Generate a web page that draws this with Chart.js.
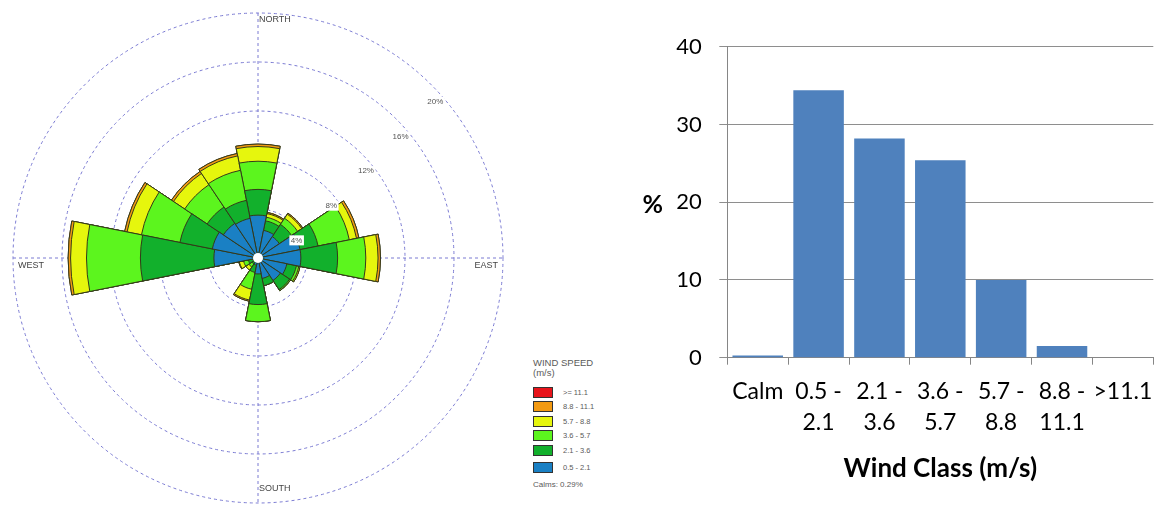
<!DOCTYPE html>
<html>
<head>
<meta charset="utf-8">
<title>Wind rose and wind class distribution</title>
<script src="https://cdn.jsdelivr.net/npm/chart.js@4.4.0/dist/chart.umd.min.js"></script>
<style>
  html, body { margin: 0; padding: 0; background: #fff; }
  body { width: 1172px; height: 506px; position: relative; overflow: hidden; }
  #rose-wrap { position: absolute; left: 0; top: 0; width: 520px; height: 506px; }
  #bar-wrap { position: absolute; left: 600px; top: 0; width: 572px; height: 506px; }
  #rose-legend {
    position: absolute; left: 533px; top: 358px;
    font-family: "Liberation Sans", Arial, sans-serif; color: #5a5a5a;
  }
  #rose-legend .lg-title { font-size: 9.5px; line-height: 10px; }
  #rose-legend .lg-row { display: flex; align-items: center; height: 14.5px; font-size: 7.5px; }
  #rose-legend .lg-row:last-child { margin-top: 3px; }
  #rose-legend .lg-box { width: 18px; height: 9px; border: 1px solid #333; margin-right: 10px; }
  #rose-legend .lg-calm { font-size: 8px; margin-top: 5px; }
  #lg-rows { margin-top: 7px; }
</style>
</head>
<body>
<div id="rose-wrap"><canvas id="rose"></canvas></div>
<div id="rose-legend">
  <div class="lg-title">WIND SPEED<br>(m/s)</div>
  <div id="lg-rows"></div>
  <div class="lg-calm" id="lg-calm"></div>
</div>
<div id="bar-wrap"><canvas id="bar"></canvas></div>

<script>
// ---- wind rose data (% of time, per direction, per speed class) ----
const directions = ["N", "NNE", "NE", "ENE", "E", "ESE", "SE", "SSE",
                    "S", "SSW", "SW", "WSW", "W", "WNW", "NW", "NNW"];
const speedClasses = ["0.5 - 2.1", "2.1 - 3.6", "3.6 - 5.7", "5.7 - 8.8", "8.8 - 11.1", ">= 11.1"];
const speed05to21 = [3.5, 2.3, 2.1, 3.5, 3.5, 2.4, 2.2, 1.7, 1.3, 0.6, 0.3, 0.4, 3.6, 3.8, 3.4, 3.3];
const speed21to36 = [2.1, 0.8, 1.2, 1.5, 3.0, 0.8, 0.9, 0.6, 2.5, 0.6, 0.3, 0.4, 6.0, 2.7, 1.6, 1.5];
const speed36to57 = [2.3, 0.3, 0.6, 2.6, 2.3, 0.2, 0.1, 0.0, 1.4, 1.4, 0.3, 0.4, 4.4, 3.2, 2.2, 2.5];
const speed57to88 = [1.2, 0.3, 0.4, 0.6, 1.0, 0.1, 0.0, 0.0, 0.0, 0.9, 0.3, 0.35, 1.3, 1.2, 1.1, 1.2];
const speed88to111 = [0.2, 0.1, 0.1, 0.2, 0.2, 0.0, 0.0, 0.0, 0.0, 0.1, 0.0, 0.05, 0.2, 0.2, 0.2, 0.2];
const speedOver111 = [0, 0, 0, 0, 0, 0, 0, 0, 0, 0, 0, 0, 0, 0, 0, 0];
const ringTicks = [4, 8, 12, 16, 20];
const calmPercent = 0.29;

// ---- wind class distribution (bar chart) ----
const windClasses = ["Calm", ["0.5 -", "2.1"], ["2.1 -", "3.6"], ["3.6 -", "5.7"],
                     ["5.7 -", "8.8"], ["8.8 -", "11.1"], ">11.1"];
const classFrequency = [0.29, 34.4, 28.2, 25.4, 10.0, 1.5, 0];

const roseColors = ["#1a80c4", "#12b02c", "#5cf51e", "#e6f60d", "#f39a12", "#e8141b"];
const ringColor = "#7a7ad2";

// stacked rose: every class is drawn out to the running total of the classes below it
const roseClassValues = [speed05to21, speed21to36, speed36to57, speed57to88, speed88to111, speedOver111];
let running = directions.map(() => 0);
const roseDatasets = roseClassValues.map((vals, k) => {
  running = running.map((t, i) => t + vals[i]);
  return {
    label: speedClasses[k],
    data: running.slice(),
    backgroundColor: roseColors[k],
    borderColor: "#34391a",
    borderWidth: 1,
  };
});

// compass lines, compass names, ring labels and the calm hole
const roseDecor = {
  id: "roseDecor",
  beforeDatasetsDraw(chart) {
    const r = chart.scales.r;
    const ctx = chart.ctx;
    const cx = r.xCenter, cy = r.yCenter, R = r.drawingArea;
    ctx.save();
    ctx.font = "9px 'Liberation Sans', Arial, sans-serif";
    ctx.fillStyle = "#444";
    ctx.textBaseline = "middle";
    ctx.textAlign = "left";
    ctx.fillText("NORTH", cx + 1, cy - R + 7);
    ctx.fillText("SOUTH", cx + 1, cy + R - 14);
    ctx.fillText("WEST", cx - R + 5, cy + 8);
    ctx.textAlign = "right";
    ctx.fillText("EAST", cx + R - 5, cy + 8);

    ctx.strokeStyle = ringColor;
    ctx.lineWidth = 1;
    ctx.setLineDash([3, 3]);
    ctx.beginPath();
    ctx.moveTo(cx, cy - R); ctx.lineTo(cx, cy + R);
    ctx.moveTo(cx - R, cy); ctx.lineTo(cx + R, cy);
    ctx.stroke();
    ctx.restore();
  },
  afterDatasetsDraw(chart) {
    const r = chart.scales.r;
    const ctx = chart.ctx;
    const cx = r.xCenter, cy = r.yCenter;
    ctx.save();
    ctx.beginPath();
    ctx.arc(cx, cy, 5, 0, Math.PI * 2);
    ctx.fillStyle = "#fff";
    ctx.fill();

    ctx.font = "8px 'Liberation Sans', Arial, sans-serif";
    ctx.textAlign = "center";
    ctx.textBaseline = "middle";
    ringTicks.forEach((v) => {
      const d = r.getDistanceFromCenterForValue(v) * Math.SQRT1_2;
      const x = cx + d + 4, y = cy - d + 17;
      const label = v + "%";
      const w = ctx.measureText(label).width;
      ctx.fillStyle = "#fff";
      ctx.fillRect(x - w / 2 - 1.5, y - 5, w + 3, 10);
      ctx.fillStyle = "#555";
      ctx.fillText(label, x, y);
    });
    ctx.restore();
  },
};

new Chart(document.getElementById("rose"), {
  type: "polarArea",
  data: { labels: directions, datasets: roseDatasets },
  options: {
    animation: false,
    responsive: true,
    maintainAspectRatio: false,
    events: [],
    layout: { padding: { left: 13, top: 13, right: 17, bottom: 3 } },
    plugins: { legend: { display: false }, tooltip: { enabled: false } },
    scales: {
      r: {
        min: 0,
        max: 20,
        startAngle: -11.25,
        ticks: { display: false, stepSize: 4 },
        grid: { circular: true, color: ringColor, lineWidth: 1 },
        border: { dash: [3, 3] },
        angleLines: { display: false },
        pointLabels: { display: false },
      },
    },
  },
  plugins: [roseDecor],
});

// html legend for the rose, highest class first
const rows = document.getElementById("lg-rows");
speedClasses.slice().reverse().forEach((name, i) => {
  const color = roseColors[speedClasses.length - 1 - i];
  const row = document.createElement("div");
  row.className = "lg-row";
  row.innerHTML = `<span class="lg-box" style="background:${color}"></span><span>${name}</span>`;
  rows.appendChild(row);
});
document.getElementById("lg-calm").textContent = `Calms: ${calmPercent}%`;

// ---- bar chart ----
const axisGray = "#868686";
const gridGray = "#8e8e8e";

const yTitle = {
  id: "yTitle",
  afterDraw(chart) {
    const { ctx, chartArea } = chart;
    ctx.save();
    ctx.font = "bold 25px Lato, sans-serif";
    ctx.fillStyle = "#000";
    ctx.textAlign = "center";
    ctx.textBaseline = "middle";
    ctx.fillText("%", chartArea.left - 74.6, (chartArea.top + chartArea.bottom) / 2 + 3);
    ctx.restore();
  },
};

new Chart(document.getElementById("bar"), {
  type: "bar",
  data: {
    labels: windClasses,
    datasets: [{
      data: classFrequency,
      backgroundColor: "#4f81bd",
      borderWidth: 0,
      barPercentage: 0.83,
      categoryPercentage: 1,
    }],
  },
  options: {
    animation: false,
    responsive: true,
    maintainAspectRatio: false,
    events: [],
    layout: { padding: { left: 0, right: 18.7, top: 46.7, bottom: 0 } },
    plugins: { legend: { display: false }, tooltip: { enabled: false } },
    scales: {
      x: {
        grid: { display: true, drawOnChartArea: false, drawTicks: true, tickLength: 7, color: axisGray, offset: true },
        border: { color: axisGray, width: 1 },
        ticks: {
          color: "#000",
          font: { family: "Lato, sans-serif", size: 23, lineHeight: 1.35 },
          padding: 11.8,
          maxRotation: 0,
          autoSkip: false,
        },
        title: {
          display: true,
          text: "Wind Class (m/s)",
          color: "#000",
          font: { family: "Lato, sans-serif", size: 26, weight: "bold" },
          padding: { top: 0, bottom: 22 },
        },
        afterFit(scale) { scale.height = 148.3; },
      },
      y: {
        min: 0,
        max: 40,
        ticks: { stepSize: 10, color: "#000", font: { family: "Lato, sans-serif", size: 22 }, padding: 17.6 },
        grid: { color: gridGray, tickLength: 8, drawTicks: true },
        border: { color: axisGray },
        afterFit(scale) { scale.width = 127.3; },
      },
    },
  },
  plugins: [yTitle],
});
</script>
</body>
</html>
